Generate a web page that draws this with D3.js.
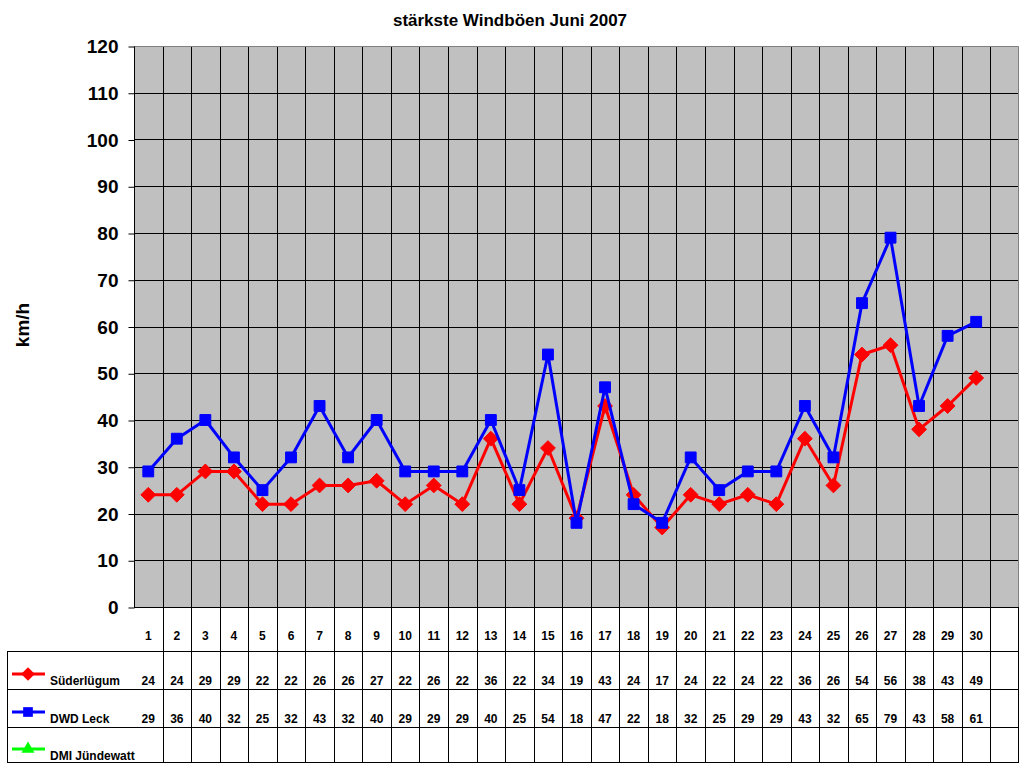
<!DOCTYPE html>
<html>
<head>
<meta charset="utf-8">
<script src="https://cdn.jsdelivr.net/npm/d3@7"></script>
<style>
  body { margin: 0; background: #fff; }
  text { font-family: Arial, "Liberation Sans", sans-serif; font-weight: bold; }
</style>
</head>
<body>
<svg width="1024" height="768"></svg>
<script>
var width = 1024;
var height = 768;
var margin = {left: 134, right: 5, top: 46, bottom: 161};

// data
var days = [1,2,3,4,5,6,7,8,9,10,11,12,13,14,15,16,17,18,19,20,21,22,23,24,25,26,27,28,29,30];
var suederluegum = [24,24,29,29,22,22,26,26,27,22,26,22,36,22,34,19,43,24,17,24,22,24,22,36,26,54,56,38,43,49];
var dwdLeck = [29,36,40,32,25,32,43,32,40,29,29,29,40,25,54,18,47,22,18,32,25,29,29,43,32,65,79,43,58,61];
var dmiJuendewatt = [];
var yTicks = [0,10,20,30,40,50,60,70,80,90,100,110,120];

var seriesList = [
  {name: "Süderlügum", values: suederluegum, color: "#FF0000", symbol: d3.symbolDiamond2, size: 140},
  {name: "DWD Leck", values: dwdLeck, color: "#0000FF", symbol: d3.symbolSquare2, size: 150},
  {name: "DMI Jündewatt", values: dmiJuendewatt, color: "#00FF00", symbol: d3.symbolTriangle2, size: 140}
];

// columns: 30 days + one empty column at the end
var columns = days.map(String).concat([""]);

var xScale = d3.scaleBand().domain(columns).range([margin.left, width - margin.right]).padding(0);
var yScale = d3.scaleLinear().domain([0, 120]).range([height - margin.bottom, margin.top]);

var svg = d3.select('svg');

function xCenter(d) { return xScale(String(d)) + xScale.bandwidth() / 2; }

// plot background
svg.append("rect")
  .attr("x", margin.left)
  .attr("y", margin.top)
  .attr("width", width - margin.right - margin.left)
  .attr("height", height - margin.bottom - margin.top)
  .attr("fill", "#C0C0C0");

// horizontal grid
svg.append("g").selectAll("line")
  .data(yTicks.slice(1, -1))
  .enter().append("line")
  .attr("x1", margin.left)
  .attr("x2", width - margin.right)
  .attr("y1", function (d) { return Math.round(yScale(d)) + 0.5; })
  .attr("y2", function (d) { return Math.round(yScale(d)) + 0.5; })
  .attr("stroke", "#000");

// vertical grid (column boundaries) down through the table
svg.append("g").selectAll("line")
  .data(columns.slice(1))
  .enter().append("line")
  .attr("x1", function (d) { return Math.round(xScale(d)) + 0.5; })
  .attr("x2", function (d) { return Math.round(xScale(d)) + 0.5; })
  .attr("y1", margin.top)
  .attr("y2", 762)
  .attr("stroke", "#000");

// top and right border of plot
svg.append("path")
  .attr("d", "M" + (margin.left) + "," + (margin.top + 0.5) + "H" + (width - margin.right - 0.5) + "V" + yScale(0))
  .attr("fill", "none")
  .attr("stroke", "#808080");

// table rows
var rowLines = [651, 689, 727, 762];
svg.append("g").selectAll("line")
  .data(rowLines)
  .enter().append("line")
  .attr("x1", 7)
  .attr("x2", width - margin.right)
  .attr("y1", function (d) { return d + 0.5; })
  .attr("y2", function (d) { return d + 0.5; })
  .attr("stroke", "#000");

svg.append("line")
  .attr("x1", 7.5).attr("x2", 7.5).attr("y1", 651).attr("y2", 763)
  .attr("stroke", "#000");
svg.append("line")
  .attr("x1", width - margin.right - 0.5).attr("x2", width - margin.right - 0.5)
  .attr("y1", yScale(0)).attr("y2", 763)
  .attr("stroke", "#000");

// y axis
var axisLeft = d3.axisLeft(yScale).tickValues(yTicks).tickSize(6).tickPadding(10);
var yAxis = svg.append('g')
  .attr("transform", "translate(" + (margin.left + 0.5) + ",0.5)")
  .call(axisLeft);
yAxis.select(".domain").attr("stroke", "#000").attr("d", "M0," + (margin.top) + "V" + (height - margin.bottom));
yAxis.selectAll("line").attr("stroke", "#000");
yAxis.selectAll("text")
  .style("font-size", "19px")
  .style("font-family", "Arial, 'Liberation Sans', sans-serif")
  .style("font-weight", "bold")
  .attr("fill", "#000");

// base line at 0 through the table
svg.append("line")
  .attr("x1", margin.left).attr("x2", width - margin.right)
  .attr("y1", Math.round(yScale(0)) + 0.5).attr("y2", Math.round(yScale(0)) + 0.5)
  .attr("stroke", "#000");

// lines + markers
var line = d3.line()
  .x(function (d, i) { return xCenter(days[i]); })
  .y(function (d) { return yScale(d); });

seriesList.forEach(function (s) {
  if (!s.values.length) return;
  svg.append("path")
    .datum(s.values)
    .attr("d", line)
    .attr("fill", "none")
    .attr("stroke", s.color)
    .attr("stroke-width", 3)
    .attr("stroke-linejoin", "round");
  svg.append("g").selectAll("path")
    .data(s.values)
    .enter().append("path")
    .attr("transform", function (d, i) { return "translate(" + xCenter(days[i]) + "," + yScale(d) + ")"; })
    .attr("d", d3.symbol().type(s.symbol).size(s.size))
    .attr("fill", s.color)
    .attr("stroke", s.color)
    .attr("stroke-width", 1);
});

// table: day header
svg.append("g").selectAll("text")
  .data(days)
  .enter().append("text")
  .attr("x", xCenter)
  .attr("y", 640)
  .attr("text-anchor", "middle")
  .style("font-size", "12px")
  .text(function (d) { return d; });

// table: values and legend
var rowTextY = [685, 723, 760];
seriesList.forEach(function (s, r) {
  svg.append("g").selectAll("text")
    .data(s.values)
    .enter().append("text")
    .attr("x", function (d, i) { return xCenter(days[i]); })
    .attr("y", rowTextY[r])
    .attr("text-anchor", "middle")
    .style("font-size", "12px")
    .text(function (d) { return d; });

  var ly = rowTextY[r] - 11;
  svg.append("line")
    .attr("x1", 12).attr("x2", 45)
    .attr("y1", ly).attr("y2", ly)
    .attr("stroke", s.color)
    .attr("stroke-width", 3);
  svg.append("path")
    .attr("transform", "translate(28," + ly + ")")
    .attr("d", d3.symbol().type(s.symbol).size(120))
    .attr("fill", s.color);
  svg.append("text")
    .attr("x", 50)
    .attr("y", rowTextY[r])
    .style("font-size", "12px")
    .text(s.name);
});

// title
svg.append("text")
  .attr("x", 510)
  .attr("y", 26)
  .attr("text-anchor", "middle")
  .style("font-size", "17px")
  .text("stärkste Windböen Juni 2007");

// y label
svg.append("text")
  .attr("transform", "rotate(-90)")
  .attr("x", -325)
  .attr("y", 29)
  .attr("text-anchor", "middle")
  .style("font-size", "19px")
  .text("km/h");
</script>
</body>
</html>
